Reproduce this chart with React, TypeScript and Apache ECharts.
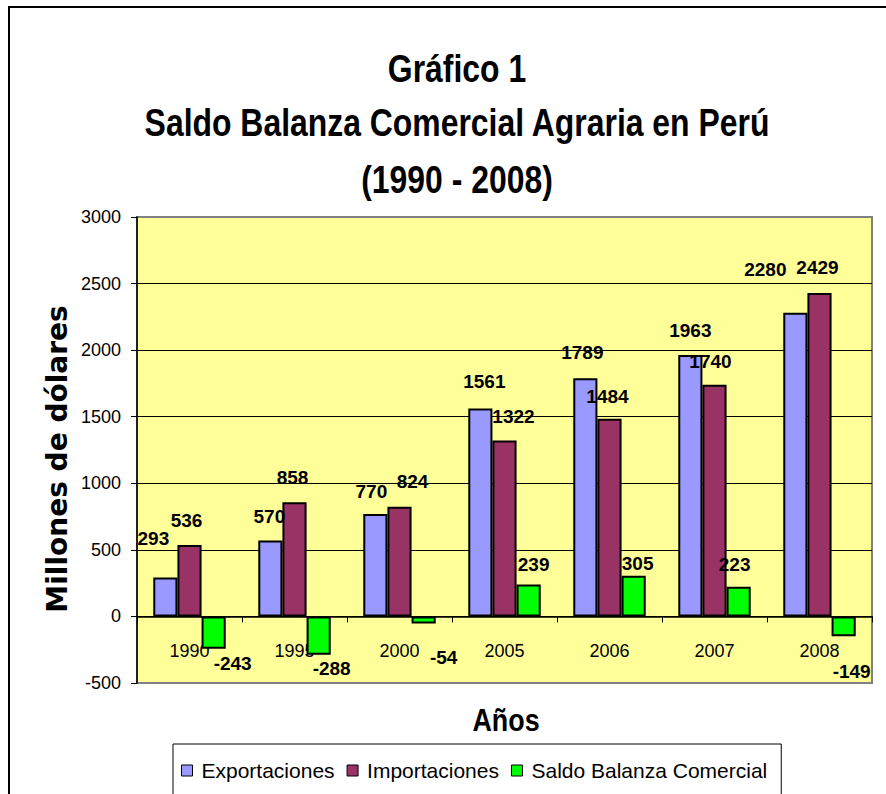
import React, { useEffect, useRef } from 'react';
import * as echarts from 'echarts';

const years = ['1990', '1995', '2000', '2005', '2006', '2007', '2008'];
const exportaciones = [293, 570, 770, 1561, 1789, 1963, 2280];
const importaciones = [536, 858, 824, 1322, 1484, 1740, 2429];
const saldo = [-243, -288, -54, 239, 305, 223, -149];
const seriesNames = ['Exportaciones', 'Importaciones', 'Saldo Balanza Comercial'];
const titleLines = ['Gráfico 1', 'Saldo Balanza Comercial Agraria en Perú', '(1990 - 2008)'];
const yAxisTitle = 'Millones de dólares';
const xAxisTitle = 'Años';
const yMin = -500;
const yMax = 3000;
const yInterval = 500;

// manual label offsets [dx, dy] (as placed in the original)
const expLabelOffsets = [[-12, -29], [-1, -15], [-4, -13], [4, -18], [-3, -16], [0, -15], [-30, -34]];
const impLabelOffsets = [[-3, -15], [-2, -15], [13, -16], [9, -14], [-2, -13], [-4, -14], [-2, -16]];
const saldoLabelOffsets = [[19, 5], [13, 4], [20, 24], [5, -11], [4, -3], [-4, -13], [8, 26]];

const SANS = '"Liberation Sans", Arial, sans-serif';
const colors = ['#9999FF', '#993366', '#00FF00'];
const NARROW_SCALE = 0.84;

function buildData(values: number[], offsets: number[][]) {
  return values.map((v, i) => ({
    value: v,
    label: { position: v >= 0 ? 'top' : 'bottom', distance: 0, offset: offsets[i] },
  }));
}

export default function App() {
  const ref = useRef<HTMLDivElement>(null);
  useEffect(() => {
    if (!ref.current) return;
    const chart = echarts.init(ref.current, null, { renderer: 'svg' });
    const labelStyle = {
      show: true,
      fontFamily: SANS,
      fontWeight: 'bold',
      fontSize: 19,
      color: '#000',
    };
    const mkSeries = (name: string, values: number[], offsets: number[][], color: string) => ({
      name,
      type: 'bar',
      data: buildData(values, offsets),
      barGap: '0%',
      barCategoryGap: '31%',
      itemStyle: { color, borderColor: '#000', borderWidth: 2 },
      label: labelStyle,
    });
    chart.setOption({
      animation: false,
      backgroundColor: '#ffffff',
      grid: {
        left: 137,
        right: 14,
        top: 217,
        bottom: 111,
        show: true,
        backgroundColor: '#FFFF99',
        borderColor: '#808080',
        borderWidth: 2,
      },
      legend: {
        data: seriesNames,
        left: 173,
        top: 744,
        icon: 'rect',
        itemWidth: 11,
        itemHeight: 11,
        itemGap: 12,
        padding: [16, 14, 40, 8],
        borderColor: '#000',
        borderWidth: 1,
        itemStyle: { borderColor: '#000', borderWidth: 1 },
        textStyle: { fontFamily: SANS, fontSize: 21, color: '#000', padding: [0, 0, 0, 4] },
      },
      xAxis: {
        type: 'category',
        data: years,
        position: 'bottom',
        offset: 0,
        axisLine: { onZero: false, lineStyle: { color: '#000', width: 1.5 } },
        axisTick: { show: true, length: 6, lineStyle: { color: '#000', width: 1 } },
        axisLabel: { fontFamily: SANS, fontSize: 18, color: '#000', margin: 26 },
        splitLine: { show: false },
      },
      yAxis: {
        type: 'value',
        min: yMin,
        max: yMax,
        interval: yInterval,
        axisLine: { show: true, lineStyle: { color: '#000', width: 1.5 } },
        axisTick: { show: true, length: 6, lineStyle: { color: '#000', width: 1 } },
        axisLabel: {
          fontFamily: SANS,
          fontSize: 18,
          color: '#000',
          margin: 16,
          formatter: (v: number) => String(v),
        },
        splitLine: { show: true, showMinLine: false, showMaxLine: false, lineStyle: { color: '#000', width: 1 } },
      },
      series: [
        mkSeries(seriesNames[0], exportaciones, expLabelOffsets, colors[0]),
        mkSeries(seriesNames[1], importaciones, impLabelOffsets, colors[1]),
        mkSeries(seriesNames[2], saldo, saldoLabelOffsets, colors[2]),
      ],
      graphic: [
        {
          type: 'rect',
          silent: true,
          shape: { x: 9, y: 7, width: 1000, height: 1000 },
          style: { fill: 'none', stroke: '#000', lineWidth: 2 },
        },
        ...titleLines.map((t, i) => ({
          type: 'text',
          x: 457,
          y: [68.5, 122, 179][i],
          scaleX: NARROW_SCALE,
          silent: true,
          style: {
            text: t,
            font: 'bold 38px ' + SANS,
            fill: '#000',
            textAlign: 'center',
            textVerticalAlign: 'middle',
          },
        })),
        {
          type: 'text',
          x: 57,
          y: 459,
          rotation: Math.PI / 2,
          silent: true,
          style: {
            text: yAxisTitle,
            font: 'bold 28px "DejaVu Sans", sans-serif',
            fill: '#000',
            textAlign: 'center',
            textVerticalAlign: 'middle',
          },
        },
        {
          type: 'text',
          x: 506,
          y: 720,
          scaleX: NARROW_SCALE,
          silent: true,
          style: {
            text: xAxisTitle,
            font: 'bold 32px ' + SANS,
            fill: '#000',
            textAlign: 'center',
            textVerticalAlign: 'middle',
          },
        },
      ],
    });
    // place the category axis on the zero line of the value axis
    const zeroPx = chart.convertToPixel({ yAxisIndex: 0 }, 0) as number;
    const minPx = chart.convertToPixel({ yAxisIndex: 0 }, yMin) as number;
    chart.setOption({ xAxis: { offset: zeroPx - minPx } });
    return () => chart.dispose();
  }, []);
  return (
    <div
      ref={ref}
      style={{ position: 'absolute', left: 0, top: 0, width: 886, height: 794 }}
    />
  );
}
